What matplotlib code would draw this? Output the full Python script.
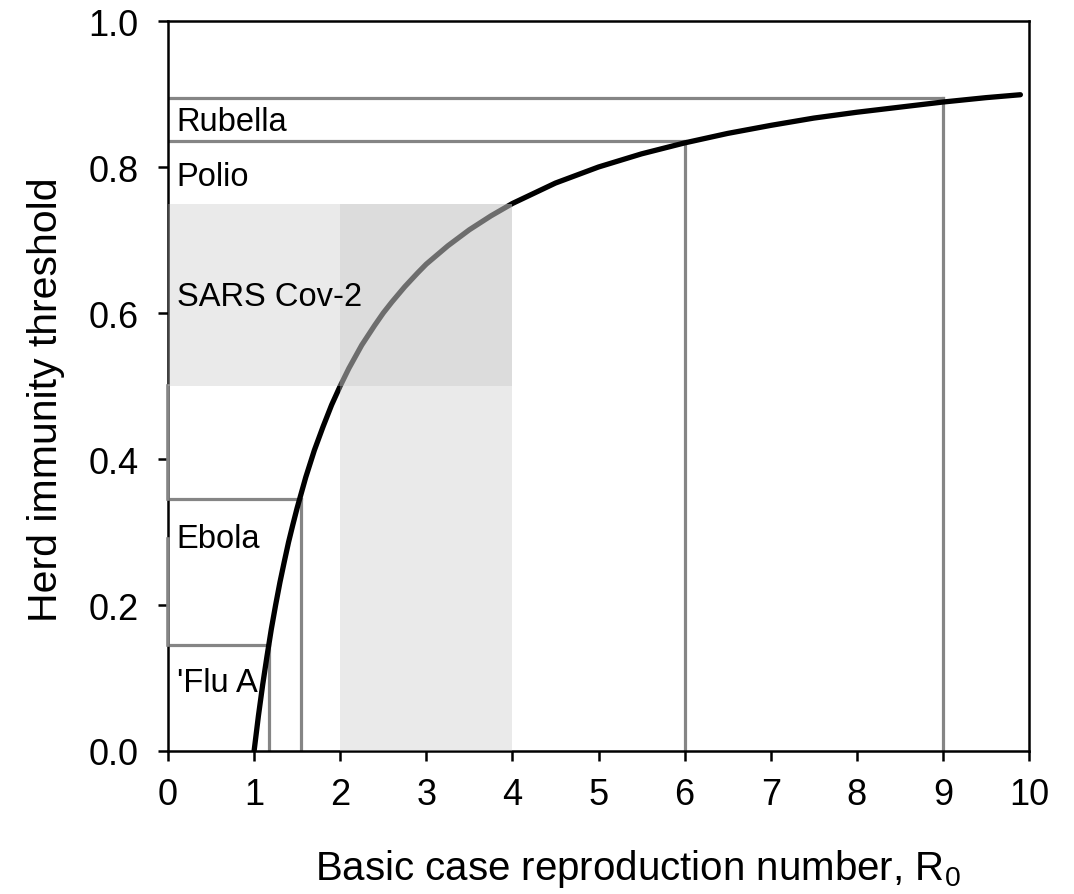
import matplotlib
matplotlib.use("Agg")
import matplotlib.pyplot as plt
from matplotlib.patches import Rectangle

plt.rcParams["font.family"] = ["Liberation Sans", "DejaVu Sans"]
plt.rcParams["mathtext.fontset"] = "custom"
plt.rcParams["mathtext.rm"] = "Liberation Sans"
plt.rcParams["mathtext.it"] = "Liberation Sans"

r0_curve = [1.0, 1.05, 1.1, 1.15, 1.2, 1.25, 1.3, 1.35, 1.4, 1.45, 1.5, 1.6,
            1.7, 1.8, 1.9, 2.0, 2.1, 2.25, 2.4, 2.5, 2.6, 2.75, 2.9, 3.0,
            3.25, 3.5, 3.75, 4.0, 4.5, 5.0, 5.5, 6.0, 6.5, 7.0, 7.5, 8.0,
            8.5, 9.0, 9.5, 9.9]
hit_curve = [0.0, 0.048, 0.091, 0.130, 0.167, 0.2, 0.231, 0.259, 0.286, 0.310,
             0.333, 0.375, 0.412, 0.444, 0.474, 0.5, 0.524, 0.556, 0.583, 0.6,
             0.615, 0.636, 0.655, 0.667, 0.692, 0.714, 0.733, 0.75, 0.778,
             0.8, 0.818, 0.833, 0.846, 0.857, 0.867, 0.875, 0.882, 0.889,
             0.895, 0.899]

# diseases: R0 and threshold marked with grey guide lines
diseases = ["Rubella", "Polio", "Ebola", "'Flu A"]
disease_r0 = [9.0, 6.0, 1.55, 1.17]
disease_hit = [0.895, 0.836, 0.345, 0.145]
label_y = [0.851, 0.775, 0.28, 0.082]

# ranges drawn along the y axis
range_low = [0.145, 0.345]
range_high = [0.29, 0.5]

# SARS Cov-2 range: R0 2-4, threshold 0.5-0.75
sars_r0 = [2.0, 4.0]
sars_hit = [0.5, 0.75]

fig = plt.figure(figsize=(10.74, 8.95), dpi=100)
ax = fig.add_axes([168 / 1074, 143 / 895, 861 / 1074, 730 / 895])

grey = "#858585"

ax.plot(r0_curve, hit_curve, color="black", lw=3.8, zorder=2,
        solid_capstyle="round", solid_joinstyle="round")

for r0, h in zip(disease_r0, disease_hit):
    ax.plot([0, r0], [h, h], color=grey, lw=2.3, zorder=1.8)
    ax.plot([r0, r0], [0, h], color=grey, lw=2.3, zorder=1.8)

for lo, hi in zip(range_low, range_high):
    ax.plot([0, 0], [lo, hi], color=grey, lw=2.6, zorder=2.6, clip_on=False)

for name, y in zip(diseases, label_y):
    ax.text(0.1, y, name, fontsize=23.5, va="baseline", ha="left", zorder=4)

# overlapping bands for the SARS Cov-2 range
shade = dict(facecolor="#c3c3c3", edgecolor="none", alpha=0.34, zorder=3)
ax.add_patch(Rectangle((0, sars_hit[0]), sars_r0[1], sars_hit[1] - sars_hit[0], **shade))
ax.add_patch(Rectangle((sars_r0[0], 0), sars_r0[1] - sars_r0[0], sars_hit[1], **shade))
ax.text(0.1, 0.611, "SARS Cov-2", fontsize=23.5, va="baseline", ha="left", zorder=4)

ax.set_xlim(0, 10)
ax.set_ylim(0, 1)
ax.set_xticks(range(0, 11))
ax.set_yticks([0, 0.2, 0.4, 0.6, 0.8, 1.0])
ax.set_yticklabels(["0.0", "0.2", "0.4", "0.6", "0.8", "1.0"])

for s in ax.spines.values():
    s.set_linewidth(1.8)
ax.tick_params(direction="out", length=7, width=1.8, labelsize=26)
ax.tick_params(axis="y", pad=14)
ax.tick_params(axis="x", pad=12)

ax.set_xlabel("Basic case reproduction number, R$_0$", fontsize=29)
ax.set_ylabel("Herd immunity threshold", fontsize=29.5)
ax.xaxis.set_label_coords(0.546, -0.132)
ax.yaxis.set_label_coords(-0.12, 0.482)

fig.savefig("out.png", dpi=100)
